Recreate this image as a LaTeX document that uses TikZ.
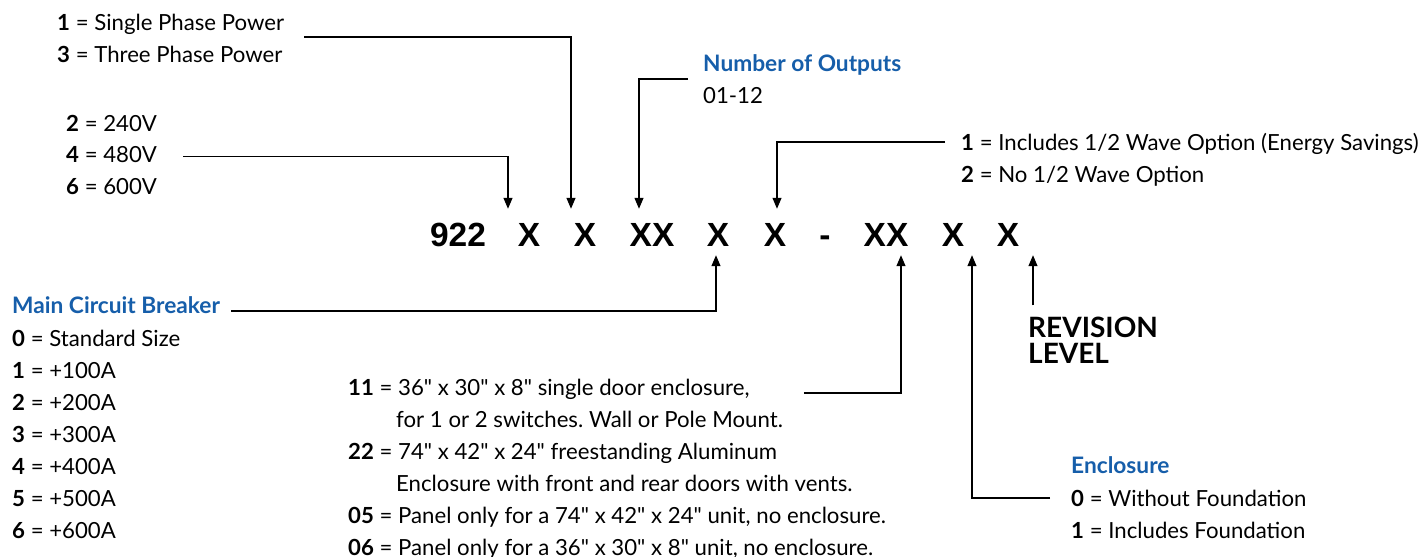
\documentclass[tikz,border=0pt]{standalone}
\usepackage{fontspec}
\setmainfont{Lato}
\newfontfamily\codefont{Liberation Sans}
\usepackage{xcolor}
\usetikzlibrary{arrows.meta}
\usetikzlibrary{positioning}
\definecolor{headblue}{RGB}{22,94,170}
\newcommand{\inch}{\textquotedbl}
\frenchspacing

\tikzset{
  txt/.style={anchor=base west, inner sep=0pt, font=\fontsize{22.2}{26}\selectfont},
  head/.style={txt, text=headblue, font=\fontsize{22.7}{26}\selectfont\bfseries},
  big/.style={txt, font=\fontsize{28}{30}\selectfont\bfseries},
  code/.style={anchor=base, inner sep=0pt, font=\codefont\fontsize{33.5}{36}\selectfont\bfseries},
  lead/.style={line width=1.3pt},
  arr/.style={lead, -{Triangle[length=11pt,width=9pt]}}
}

\begin{document}
\begin{tikzpicture}[x=1pt, y=-1pt]
  \useasboundingbox (0,0) rectangle (1428,557);

  % Define nodes
  \node[code] (c922) at (458,246) {922};
  \node[code] (x1) at (529,246) {X};
  \node[code] (x2) at (585,246) {X};
  \node[code] (xx1) at (652,246) {XX};
  \node[code] (x4) at (718,246) {X};
  \node[code] (x5) at (775,246) {X};
  \node[code] (dash) at (825,246) {-};
  \node[code] (xx2) at (886,246) {XX};
  \node[code] (x7) at (953,246) {X};
  \node[code] (x8) at (1008,246) {X};

  \node[txt] (p1) at (57,30) {\textbf{1} = Single Phase Power};
  \node[txt] (p3) at ([yshift=-32]p1.base west) {\textbf{3} = Three Phase Power};

  \node[txt] (v2) at (66,131) {\textbf{2} = 240V};
  \node[txt] (v4) at ([yshift=-31.5]v2.base west) {\textbf{4} = 480V};
  \node[txt] (v6) at ([yshift=-31.5]v4.base west) {\textbf{6} = 600V};

  \node[head] (outs) at (703,71) {Number of Outputs};
  \node[txt] (outrange) at ([yshift=-32]outs.base west) {01-12};

  \node[txt] (w1) at (961,150) {\textbf{1} = Includes 1/2 Wave Option (Energy Savings)};
  \node[txt] (w2) at ([yshift=-32]w1.base west) {\textbf{2} = No 1/2 Wave Option};

  \node[head] (brk) at (12,313) {Main Circuit Breaker};
  \node[txt] (b0) at ([yshift=-33]brk.base west) {\textbf{0} = Standard Size};
  \node[txt] (b1) at ([yshift=-32]b0.base west) {\textbf{1} = +100A};
  \node[txt] (b2) at ([yshift=-32]b1.base west) {\textbf{2} = +200A};
  \node[txt] (b3) at ([yshift=-32]b2.base west) {\textbf{3} = +300A};
  \node[txt] (b4) at ([yshift=-32]b3.base west) {\textbf{4} = +400A};
  \node[txt] (b5) at ([yshift=-32]b4.base west) {\textbf{5} = +500A};
  \node[txt] (b6) at ([yshift=-32]b5.base west) {\textbf{6} = +600A};

  \node[txt] (e11) at (348,395) {\textbf{11} = 36\inch{} x 30\inch{} x 8\inch{} single door enclosure,};
  \node[txt] (e11b) at ([xshift=48,yshift=-32]e11.base west) {for 1 or 2 switches. Wall or Pole Mount.};
  \node[txt] (e22) at ([yshift=-64]e11.base west) {\textbf{22} = 74\inch{} x 42\inch{} x 24\inch{} freestanding Aluminum};
  \node[txt] (e22b) at ([xshift=48,yshift=-32]e22.base west) {Enclosure with front and rear doors with vents.};
  \node[txt] (e05) at ([yshift=-64]e22.base west) {\textbf{05} = Panel only for a 74\inch{} x 42\inch{} x 24\inch{} unit, no enclosure.};
  \node[txt] (e06) at ([yshift=-32]e05.base west) {\textbf{06} = Panel only for a 36\inch{} x 30\inch{} x 8\inch{} unit, no enclosure.};

  \node[big] (rev1) at (1028,337) {REVISION};
  \node[big] (rev2) at ([yshift=-26]rev1.base west) {LEVEL};

  \node[head] (encl) at (1071,473) {Enclosure};
  \node[txt] (f0) at ([yshift=-33]encl.base west) {\textbf{0} = Without Foundation};
  \node[txt] (f1) at ([yshift=-32]f0.base west) {\textbf{1} = Includes Foundation};

  % Connect nodes
  \draw[arr] ([xshift=20,yshift=-7]p1.base east) -| ([xshift=-14,yshift=14]x2.north);
  \draw[arr] ([xshift=26,yshift=6]v4.base east) -| ([xshift=-21,yshift=14]x1.north);
  \draw[arr] ([xshift=-15,yshift=-8]outs.base west) -| ([xshift=-13,yshift=14]xx1.north);
  \draw[arr] ([xshift=-16,yshift=8]w1.base west) -| ([xshift=2,yshift=14]x5.north);

  \draw[arr] ([xshift=11,yshift=2]brk.base east) -| ([xshift=-2,yshift=-9]x4.south);
  \draw[arr] ([xshift=54,yshift=2]e11.base east) -| ([xshift=15,yshift=-9]xx2.south);
  \draw[arr] ([xshift=-21,yshift=8]f0.base west) -| ([xshift=19,yshift=-9]x7.south);
  \draw[arr] ([xshift=5,yshift=11]rev1.north west) -- ([xshift=25,yshift=-9]x8.south);

\end{tikzpicture}
\end{document}
